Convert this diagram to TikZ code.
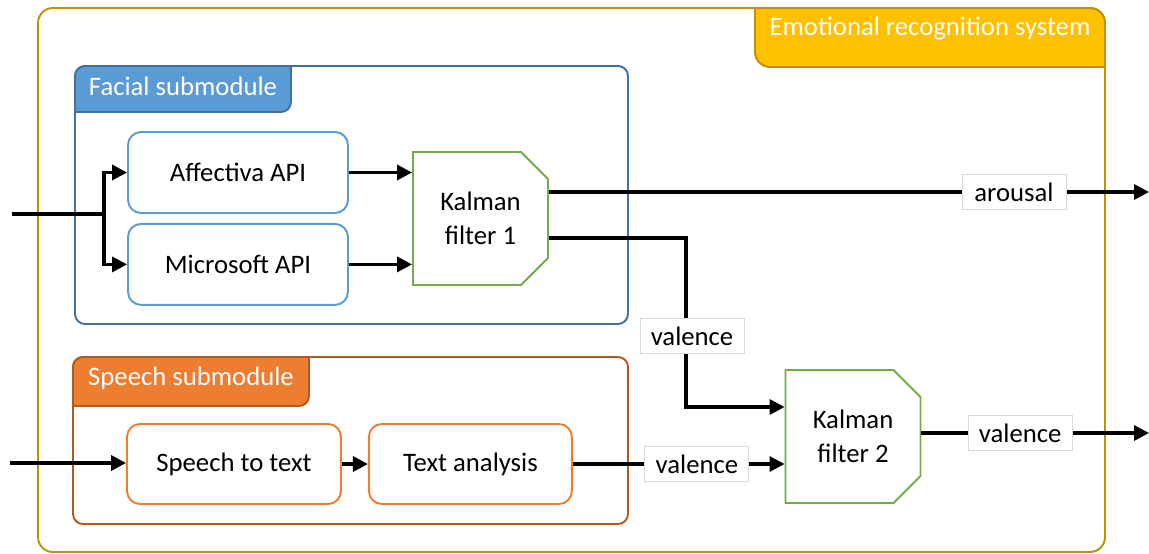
\documentclass[tikz,border=0pt]{standalone}
\usepackage{fontspec}
\setmainfont{Carlito}
\usetikzlibrary{arrows.meta,shapes.misc,positioning,calc}

\definecolor{sysgold}{HTML}{BF9000}
\definecolor{sysyellow}{HTML}{FFC000}
\definecolor{facedark}{HTML}{41719C}
\definecolor{faceblue}{HTML}{5B9BD5}
\definecolor{speechdark}{HTML}{AE5A21}
\definecolor{speechorange}{HTML}{ED7D31}
\definecolor{kalgreen}{HTML}{70AD47}
\definecolor{lblgray}{HTML}{D9D9D9}

\begin{document}
\begin{tikzpicture}[x=0.02cm, y=-0.02cm, line width=1.1pt,
  font=\fontsize{15.2}{19}\selectfont,
  >={Triangle[length=0.3cm, width=0.3cm]},
  flow/.style={->, line width=1.9pt},
  api/.style={rectangle, rounded corners=0.26cm, draw=faceblue, minimum width=4.4cm, minimum height=1.62cm},
  spc/.style={rectangle, rounded corners=0.26cm, draw=speechorange, minimum height=1.6cm},
  kalman/.style={chamfered rectangle, chamfered rectangle corners={north east, south east},
                 chamfered rectangle xsep=0.27cm, chamfered rectangle ysep=0.27cm,
                 draw=kalgreen, minimum width=2.7cm, minimum height=2.66cm, align=center, inner sep=0pt},
  lbl/.style={rectangle, fill=white, draw=lblgray, line width=0.5pt, minimum width=2.08cm, minimum height=0.7cm, inner sep=0pt}]

  \useasboundingbox (0,0) rectangle (1149,554);

  % system frame and its tab
  \draw[sysgold, rounded corners=0.3cm] (38,8) rectangle (1105,552);
  \filldraw[fill=sysyellow, draw=sysgold] (755,8) -- (1090,8) arc(90:0:0.3cm) -- (1105,67)
      -- (770,67) arc(270:180:0.3cm) -- cycle;
  \node[text=white] (systitle) at (930,29) {Emotional recognition system};

  % facial submodule
  \draw[facedark, rounded corners=0.2cm] (75,66) rectangle (628,324);
  \filldraw[fill=faceblue, draw=facedark] (75,112) -- (75,76) arc(180:90:0.2cm) -- (291,66)
      -- (291,102) arc(0:-90:0.2cm) -- cycle;
  \node[text=white] (facetitle) at (183,86) {Facial submodule};

  % speech submodule
  \draw[speechdark, rounded corners=0.2cm] (73,357) rectangle (628,524);
  \filldraw[fill=speechorange, draw=speechdark] (73,406) -- (73,367) arc(180:90:0.2cm) -- (309,357)
      -- (309,396) arc(0:-90:0.2cm) -- cycle;
  \node[text=white] (speechtitle) at (191,378) {Speech submodule};

  \node[api] at (238,172.5) (aff) {Affectiva API};
  \node[api, below=0.18cm of aff] (ms) {Microsoft API};
  \node[kalman] at (480.5,218.5) (kf1) {Kalman\\filter 1};

  \node[spc, minimum width=4.28cm] at (234,464) (stt) {Speech to text};
  \node[spc, minimum width=4.06cm, right=0.52cm of stt] (ta) {Text analysis};
  \node[kalman] at (853,436.5) (kf2) {Kalman\\filter 2};

  \coordinate (facein) at (12,214);
  \coordinate (split) at (104,214);
  \coordinate (speechin) at (10,463);
  \coordinate (arout) at (1149,192);
  \coordinate (vturn) at (686,238);
  \coordinate (valout) at (1149,433);

  \draw[line width=1.9pt] (facein) -- (split);
  \draw[flow] (split) |- (aff.west);
  \draw[flow] (split) |- (ms.west);
  \draw[flow] (aff.east) -- (aff.east -| kf1.west);
  \draw[flow] (ms.east) -- (ms.east -| kf1.west);

  \draw[flow] (kf1.east |- arout) -- node[lbl, pos=0.775] {arousal} (arout);
  \draw[flow] (kf1.east |- vturn) -- (vturn) |- node[lbl, pos=0.29, xshift=0.12cm] {valence}
      ($(kf2.west)+(0,-29.5)$);

  \draw[flow] (speechin) -- (speechin -| stt.west);
  \draw[flow] (stt.east) -- (ta.west);
  \draw[flow] (ta.east) -- node[lbl, pos=0.586] {valence} (ta.east -| kf2.west);
  \draw[flow] (kf2.east |- valout) -- node[lbl, pos=0.434] {valence} (valout);

\end{tikzpicture}
\end{document}
